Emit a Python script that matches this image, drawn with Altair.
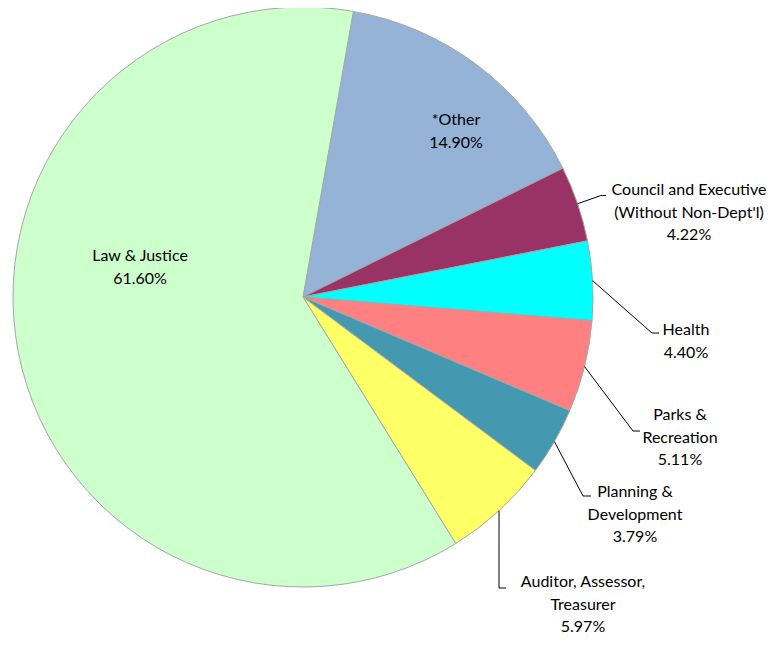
import math
import altair as alt
import pandas as pd

# ---- data ----
names = ["*Other", "Council and Executive", "Health", "Parks & Recreation",
         "Planning & Development", "Auditor, Assessor, Treasurer", "Law & Justice"]
label_text = ["*Other\n14.90%",
              "Council and Executive\n(Without Non-Dept'l)\n4.22%",
              "Health\n4.40%",
              "Parks &\nRecreation\n5.11%",
              "Planning &\nDevelopment\n3.79%",
              "Auditor, Assessor,\nTreasurer\n5.97%",
              "Law & Justice\n61.60%"]
values = [14.90, 4.22, 4.40, 5.11, 3.79, 5.97, 61.60]
colors = ["#95B3D7", "#993366", "#00FFFF", "#FF8080", "#4499B0", "#FFFF66", "#CCFFCC"]

# ---- layout / style ----
W, H = 762, 629
CX, CY = 295, 289
R = 290
START = math.radians(10)
FONT = "Lato"
FS = 16

# label first-line centres (offsets from pie centre) and leader elbows (view px)
label_off = [(153, -177), (386, -107), (383, 33), (377, 118), (332, 195), (280, 285), (-163, -41)]
elbows = [None, ((593, 187.5), (598, 187.5)), ((644, 325), (651, 325)),
          ((625, 423), (632, 423)), ((575, 488), (583, 488)),
          ((491, 580), (498, 580)), None]

df = pd.DataFrame({"name": names, "value": values, "idx": range(len(names))})

total = sum(values)
cum = 0.0
lab_rows, line_rows = [], []
for i, (n, v) in enumerate(zip(names, values)):
    mid = START + 2 * math.pi * (cum + v / 2) / total
    cum += v
    lab_rows.append({"name": n, "text": label_text[i],
                     "tx": CX + label_off[i][0], "ty": CY + label_off[i][1]})
    if elbows[i] is not None:
        ex, ey = CX + R * math.sin(mid), CY - R * math.cos(mid)
        pts = [(ex, ey), elbows[i][0], elbows[i][1]]
        for k, (px, py) in enumerate(pts):
            line_rows.append({"name": n, "pt": k, "lx": px, "ly": py})

lab_df = pd.DataFrame(lab_rows)
line_df = pd.DataFrame(line_rows)

arcs = alt.Chart(df).mark_arc(radius=R, stroke="#A6A6A6", strokeWidth=1).encode(
    theta=alt.Theta("value:Q", stack=True,
                    scale=alt.Scale(range=[START, START + 2 * math.pi])),
    order=alt.Order("idx:Q"),
    color=alt.Color("name:N", scale=alt.Scale(domain=names, range=colors), legend=None),
    x=alt.value(CX), y=alt.value(CY),
)

lines = alt.Chart(line_df).mark_line(color="#000000", strokeWidth=1).encode(
    x=alt.X("lx:Q", scale=None, axis=None),
    y=alt.Y("ly:Q", scale=None, axis=None),
    detail="name:N",
    order="pt:Q",
)

texts = alt.Chart(lab_df).mark_text(font=FONT, fontSize=FS, color="#000000",
                                     lineBreak="\n", lineHeight=22.5,
                                     align="center", baseline="middle").encode(
    x=alt.X("tx:Q", scale=None, axis=None),
    y=alt.Y("ty:Q", scale=None, axis=None),
    text="text:N",
)

chart = alt.layer(arcs, lines, texts).properties(
    width=W, height=H, padding=0, autosize=alt.AutoSizeParams(type="none")
).configure_view(stroke=None)

chart.save("out.html", embed_options={"renderer": "svg", "actions": False})
